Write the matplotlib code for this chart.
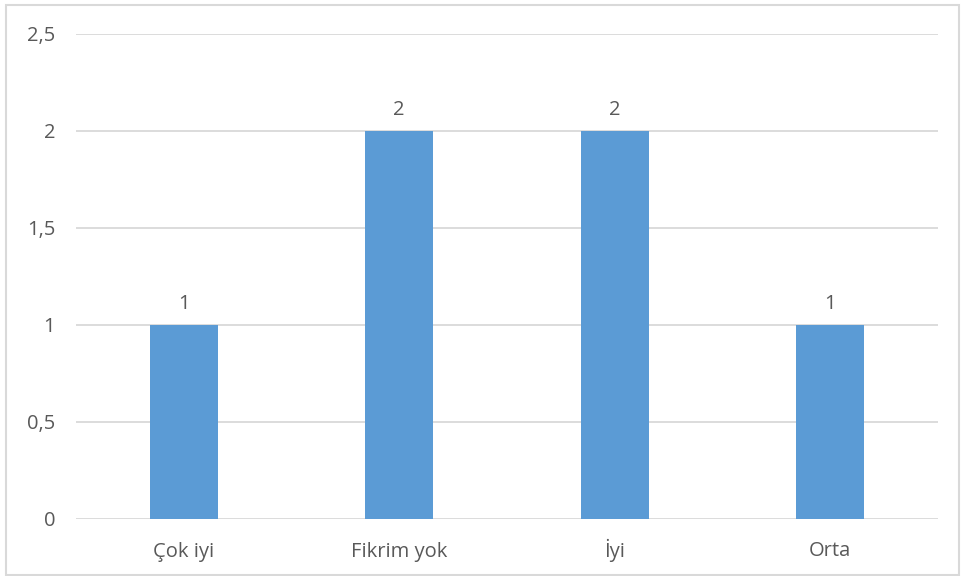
import matplotlib
matplotlib.use("Agg")
import matplotlib.pyplot as plt
from matplotlib.patches import Rectangle

categories = ["Çok iyi", "Fikrim yok", "İyi", "Orta"]
values = [1, 2, 2, 1]
yticks = [0, 0.5, 1, 1.5, 2, 2.5]
ytick_labels = ["0", "0,5", "1", "1,5", "2", "2,5"]

plt.rcParams['font.family'] = ['Open Sans', 'DejaVu Sans']
text_color = "#595959"
bar_color = "#5B9BD5"
grid_color = "#D9D9D9"
fs = 14.5

fig = plt.figure(figsize=(9.62, 5.76), dpi=100)
ax = fig.add_axes([76/962, 1 - 519/576, (938 - 76)/962, (519 - 34)/576])

x = list(range(len(categories)))
bars = ax.bar(x, values, width=0.315, color=bar_color, zorder=3)
for xi, v in zip(x, values):
    ax.annotate(str(v), (xi, v), xytext=(0, 8), textcoords="offset points",
                ha="center", va="bottom", fontsize=fs, color=text_color)

ax.set_xlim(-0.5, len(categories) - 0.5)
ax.set_ylim(0, 2.5)
ax.set_yticks(yticks)
ax.set_yticklabels(ytick_labels)
ax.set_xticks(x)
ax.set_xticklabels(categories)
ax.tick_params(axis="both", length=0, labelsize=fs, colors=text_color)
ax.tick_params(axis="y", pad=15)
ax.tick_params(axis="x", pad=27)
for lbl in ax.get_xticklabels():
    lbl.set_verticalalignment("baseline")
ax.yaxis.grid(True, color=grid_color, linewidth=1.3, zorder=0)
for s in ax.spines.values():
    s.set_visible(False)

border = Rectangle((6/962, 1/576), (959 - 6)/962, (571 - 1)/576, transform=fig.transFigure,
                   fill=False, edgecolor=grid_color, linewidth=1.5)
fig.patches.append(border)

fig.savefig("out.png", dpi=100)
